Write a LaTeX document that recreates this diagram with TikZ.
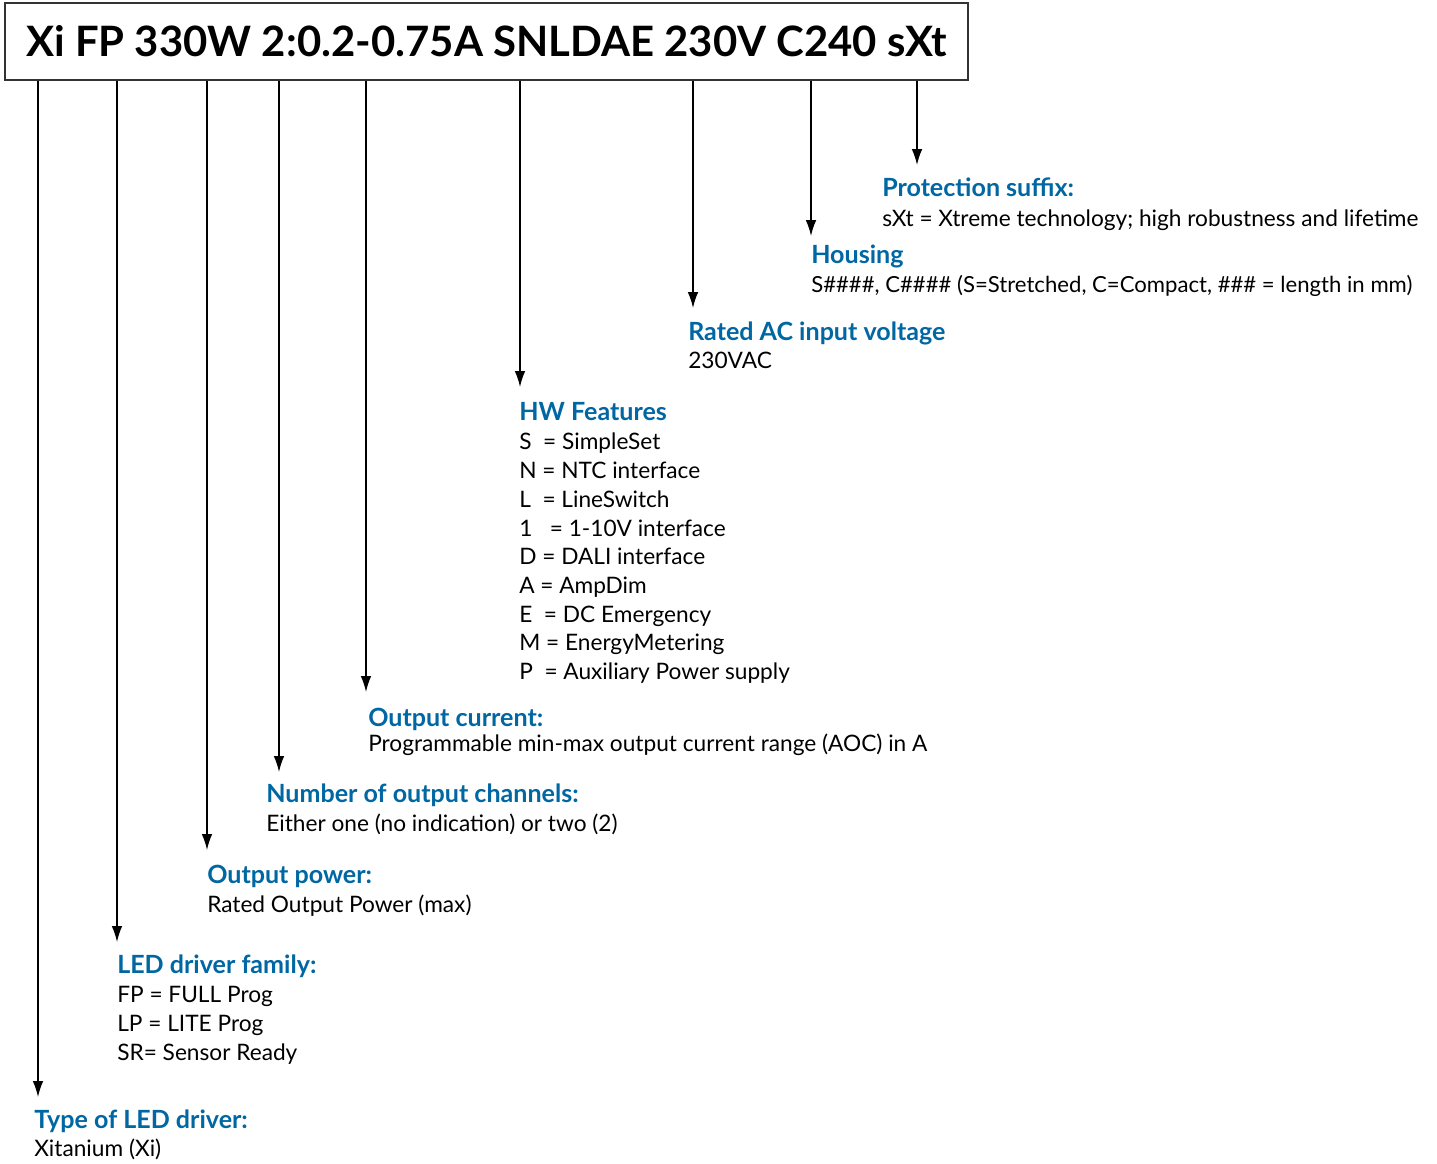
\documentclass[tikz,border=0pt]{standalone}
\usepackage{fontspec}
\setmainfont{Lato}
\usetikzlibrary{arrows.meta}
\definecolor{hblue}{RGB}{0,103,163}
\tikzset{
  body/.style={anchor=base west, inner sep=0pt, font=\fontsize{17}{20}\selectfont, text=black},
  head/.style={anchor=base west, inner sep=0pt, font=\fontsize{18.8}{22}\selectfont\bfseries, text=hblue},
  arr/.style={line width=1.1pt, -{Latex[length=12pt,width=8pt]}},
  titlebox/.style={draw=black!80, line width=1.1pt, minimum width=722.25pt, minimum height=57.75pt, inner sep=0pt, font=\fontsize{31.4}{36}\selectfont\bfseries}
}
\begin{document}
\begin{tikzpicture}[x=0.75pt,y=-0.75pt]
\useasboundingbox (0,0) rectangle (1437,1163);
\node[titlebox] (title) at (486.5,41.5) {Xi FP 330W 2:0.2-0.75A SNLDAE 230V C240 sXt};

% arrow tips
\coordinate (a1) at (38,1097);
\coordinate (a2) at (117,942);
\coordinate (a3) at (207,850);
\coordinate (a4) at (279,772);
\coordinate (a5) at (366,692);
\coordinate (a6) at (520,387);
\coordinate (a7) at (693,308);
\coordinate (a8) at (811,236);
\coordinate (a9) at (917,165);
\foreach \a in {a1,a2,a3,a4,a5,a6,a7,a8,a9}{
  \draw[arr] (title.south -| \a) -- (\a);
}

% Protection suffix
\node[head] (h9) at (882,196) {Protection suffix:};
\node[body] (b9) at (882,226) {sXt = Xtreme technology; high robustness and lifetime};
% Housing
\node[head] (h8) at (811,263) {Housing};
\node[body, font=\fontsize{16.6}{20}\selectfont] (b8) at (811,292) {S\#\#\#\#, C\#\#\#\# (S=Stretched, C=Compact, \#\#\# = length in mm)};
% Rated AC
\node[head] (h7) at (688,340) {Rated AC input voltage};
\node[body] (b7) at (688,368) {230VAC};
% HW features
\node[head] (h6) at (519,420) {HW Features};
\node[body] (b61) at (519,449) {S\ \ = SimpleSet};
\node[body] (b62) at (519,478) {N\ = NTC interface};
\node[body] (b63) at (519,507) {L\ \ = LineSwitch};
\node[body] (b64) at (519,536) {1\ \ \ = 1-10V interface};
\node[body] (b65) at (519,564) {D\ = DALI interface};
\node[body] (b66) at (519,593) {A\ = AmpDim};
\node[body] (b67) at (519,622) {E\ \ = DC Emergency};
\node[body] (b68) at (519,650) {M = EnergyMetering};
\node[body] (b69) at (519,679) {P\ \ = Auxiliary Power supply};
% Output current
\node[head] (h5) at (368,726) {Output current:};
\node[body] (b5) at (368,751) {Programmable min-max output current range (AOC) in A};
% Number of output channels
\node[head] (h4) at (266,802) {Number of output channels:};
\node[body] (b4) at (266,831) {Either one (no indication) or two (2)};
% Output power
\node[head] (h3) at (207,883) {Output power:};
\node[body] (b3) at (207,912) {Rated Output Power (max)};
% LED driver family
\node[head] (h2) at (117,973) {LED driver family:};
\node[body] (b21) at (117,1002) {FP = FULL Prog};
\node[body] (b22) at (117,1031) {LP = LITE Prog};
\node[body] (b23) at (117,1060) {SR= Sensor Ready};
% Type
\node[head] (h1) at (34,1128) {Type of LED driver:};
\node[body] (b1) at (34,1156) {Xitanium (Xi)};
\end{tikzpicture}
\end{document}
